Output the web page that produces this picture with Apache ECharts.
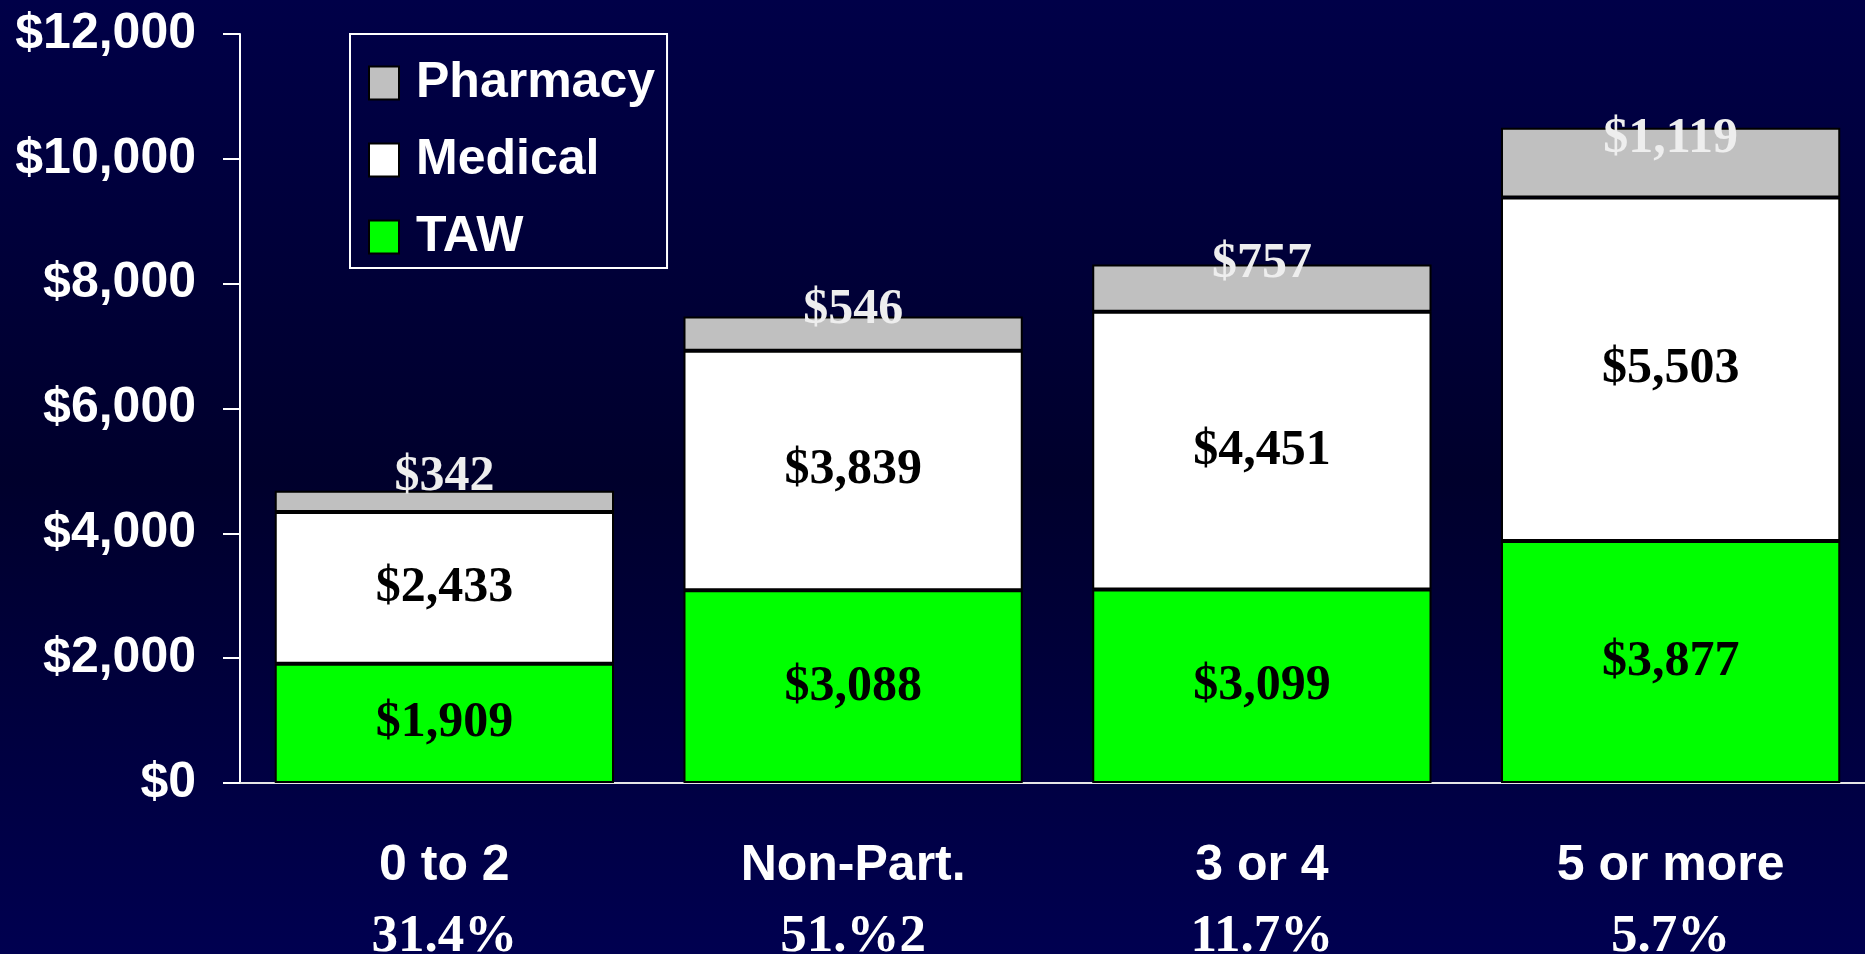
<!DOCTYPE html>
<html>
<head>
<meta charset="utf-8">
<title>Cost by group</title>
<script src="https://cdn.jsdelivr.net/npm/echarts@6/dist/echarts.min.js"></script>
<style>
  html, body { margin: 0; padding: 0; }
  #main { width: 1865px; height: 954px; }
</style>
</head>
<body>
<div id="main"></div>
<script>
// 数据
var categories = ['0 to 2', 'Non-Part.', '3 or 4', '5 or more'];
var shares = ['31.4%', '51.%2', '11.7%', '5.7%'];
var taw = [1909, 3088, 3099, 3877];
var medical = [2433, 3839, 4451, 5503];
var pharmacy = [342, 546, 757, 1119];

var sans = '"Liberation Sans", Arial, sans-serif';
var serif = '"Liberation Serif", "Times New Roman", serif';

function money(v) {
  return '$' + v.toLocaleString('en-US');
}

var chart = echarts.init(document.getElementById('main'));

var barStyle = function (color) {
  return { color: color, borderColor: '#000', borderWidth: 2 };
};

var option = {
  backgroundColor: new echarts.graphic.LinearGradient(0, 0, 0, 1, [
    { offset: 0, color: '#000048' },
    { offset: 0.5, color: '#00002c' },
    { offset: 1, color: '#000050' }
  ]),
  animation: false,
  grid: { left: 240, right: -10, top: 34, bottom: 171, outerBoundsMode: 'none', containLabel: false },
  legend: {
    orient: 'vertical',
    left: 350,
    top: 34,
    data: ['Pharmacy', 'Medical', 'TAW'],
    borderColor: '#ffffff',
    borderWidth: 2,
    padding: [24, 12, 6, 18],
    itemWidth: 30,
    itemHeight: 33,
    itemGap: 27,
    icon: 'rect',
    textStyle: {
      color: '#fff', fontFamily: sans, fontWeight: 'bold', fontSize: 50, lineHeight: 50,
      padding: [0, 0, 0, 12]
    }
  },
  xAxis: {
    type: 'category',
    data: categories,
    axisLine: { lineStyle: { color: '#e6e6e6', width: 2 } },
    axisTick: { length: 19, lineStyle: { color: '#fff', width: 2 } },
    axisLabel: {
      margin: 48,
      formatter: function (v, i) {
        return '{a|' + v + '}\n{b|' + shares[i] + '}';
      },
      rich: {
        a: { color: '#fff', fontFamily: sans, fontWeight: 'bold', fontSize: 50, lineHeight: 71 },
        b: { color: '#fff', fontFamily: serif, fontWeight: 'bold', fontSize: 53, lineHeight: 71 }
      }
    }
  },
  yAxis: {
    type: 'value',
    min: 0,
    max: 12000,
    interval: 2000,
    splitLine: { show: false },
    axisLine: { show: true, lineStyle: { color: '#fff', width: 2 } },
    axisTick: { show: true, length: 17, lineStyle: { color: '#fff', width: 2 } },
    axisLabel: {
      margin: 44,
      color: '#fff',
      fontFamily: sans,
      fontWeight: 'bold',
      fontSize: 50,
      formatter: function (v) { return money(v); }
    }
  },
  series: [{
    name: 'TAW',
    type: 'bar',
    stack: 'cost',
    barCategoryGap: '17%',
    data: taw,
    itemStyle: barStyle('#00ff00'),
    label: {
      show: true, position: 'inside', color: '#000',
      fontFamily: serif, fontWeight: 'bold', fontSize: 50,
      formatter: function (p) { return money(p.value); }
    }
  }, {
    name: 'Medical',
    type: 'bar',
    stack: 'cost',
    data: medical,
    itemStyle: barStyle('#ffffff'),
    label: {
      show: true, position: 'inside', color: '#000',
      fontFamily: serif, fontWeight: 'bold', fontSize: 50,
      formatter: function (p) { return money(p.value); }
    }
  }, {
    name: 'Pharmacy',
    type: 'bar',
    stack: 'cost',
    data: pharmacy,
    itemStyle: barStyle('#c0c0c0'),
    label: {
      show: true, position: 'inside', offset: [0, -24], color: '#eeeeee',
      fontFamily: serif, fontWeight: 'bold', fontSize: 50,
      formatter: function (p) { return money(p.value); }
    }
  }]
};

chart.setOption(option);
</script>
</body>
</html>
